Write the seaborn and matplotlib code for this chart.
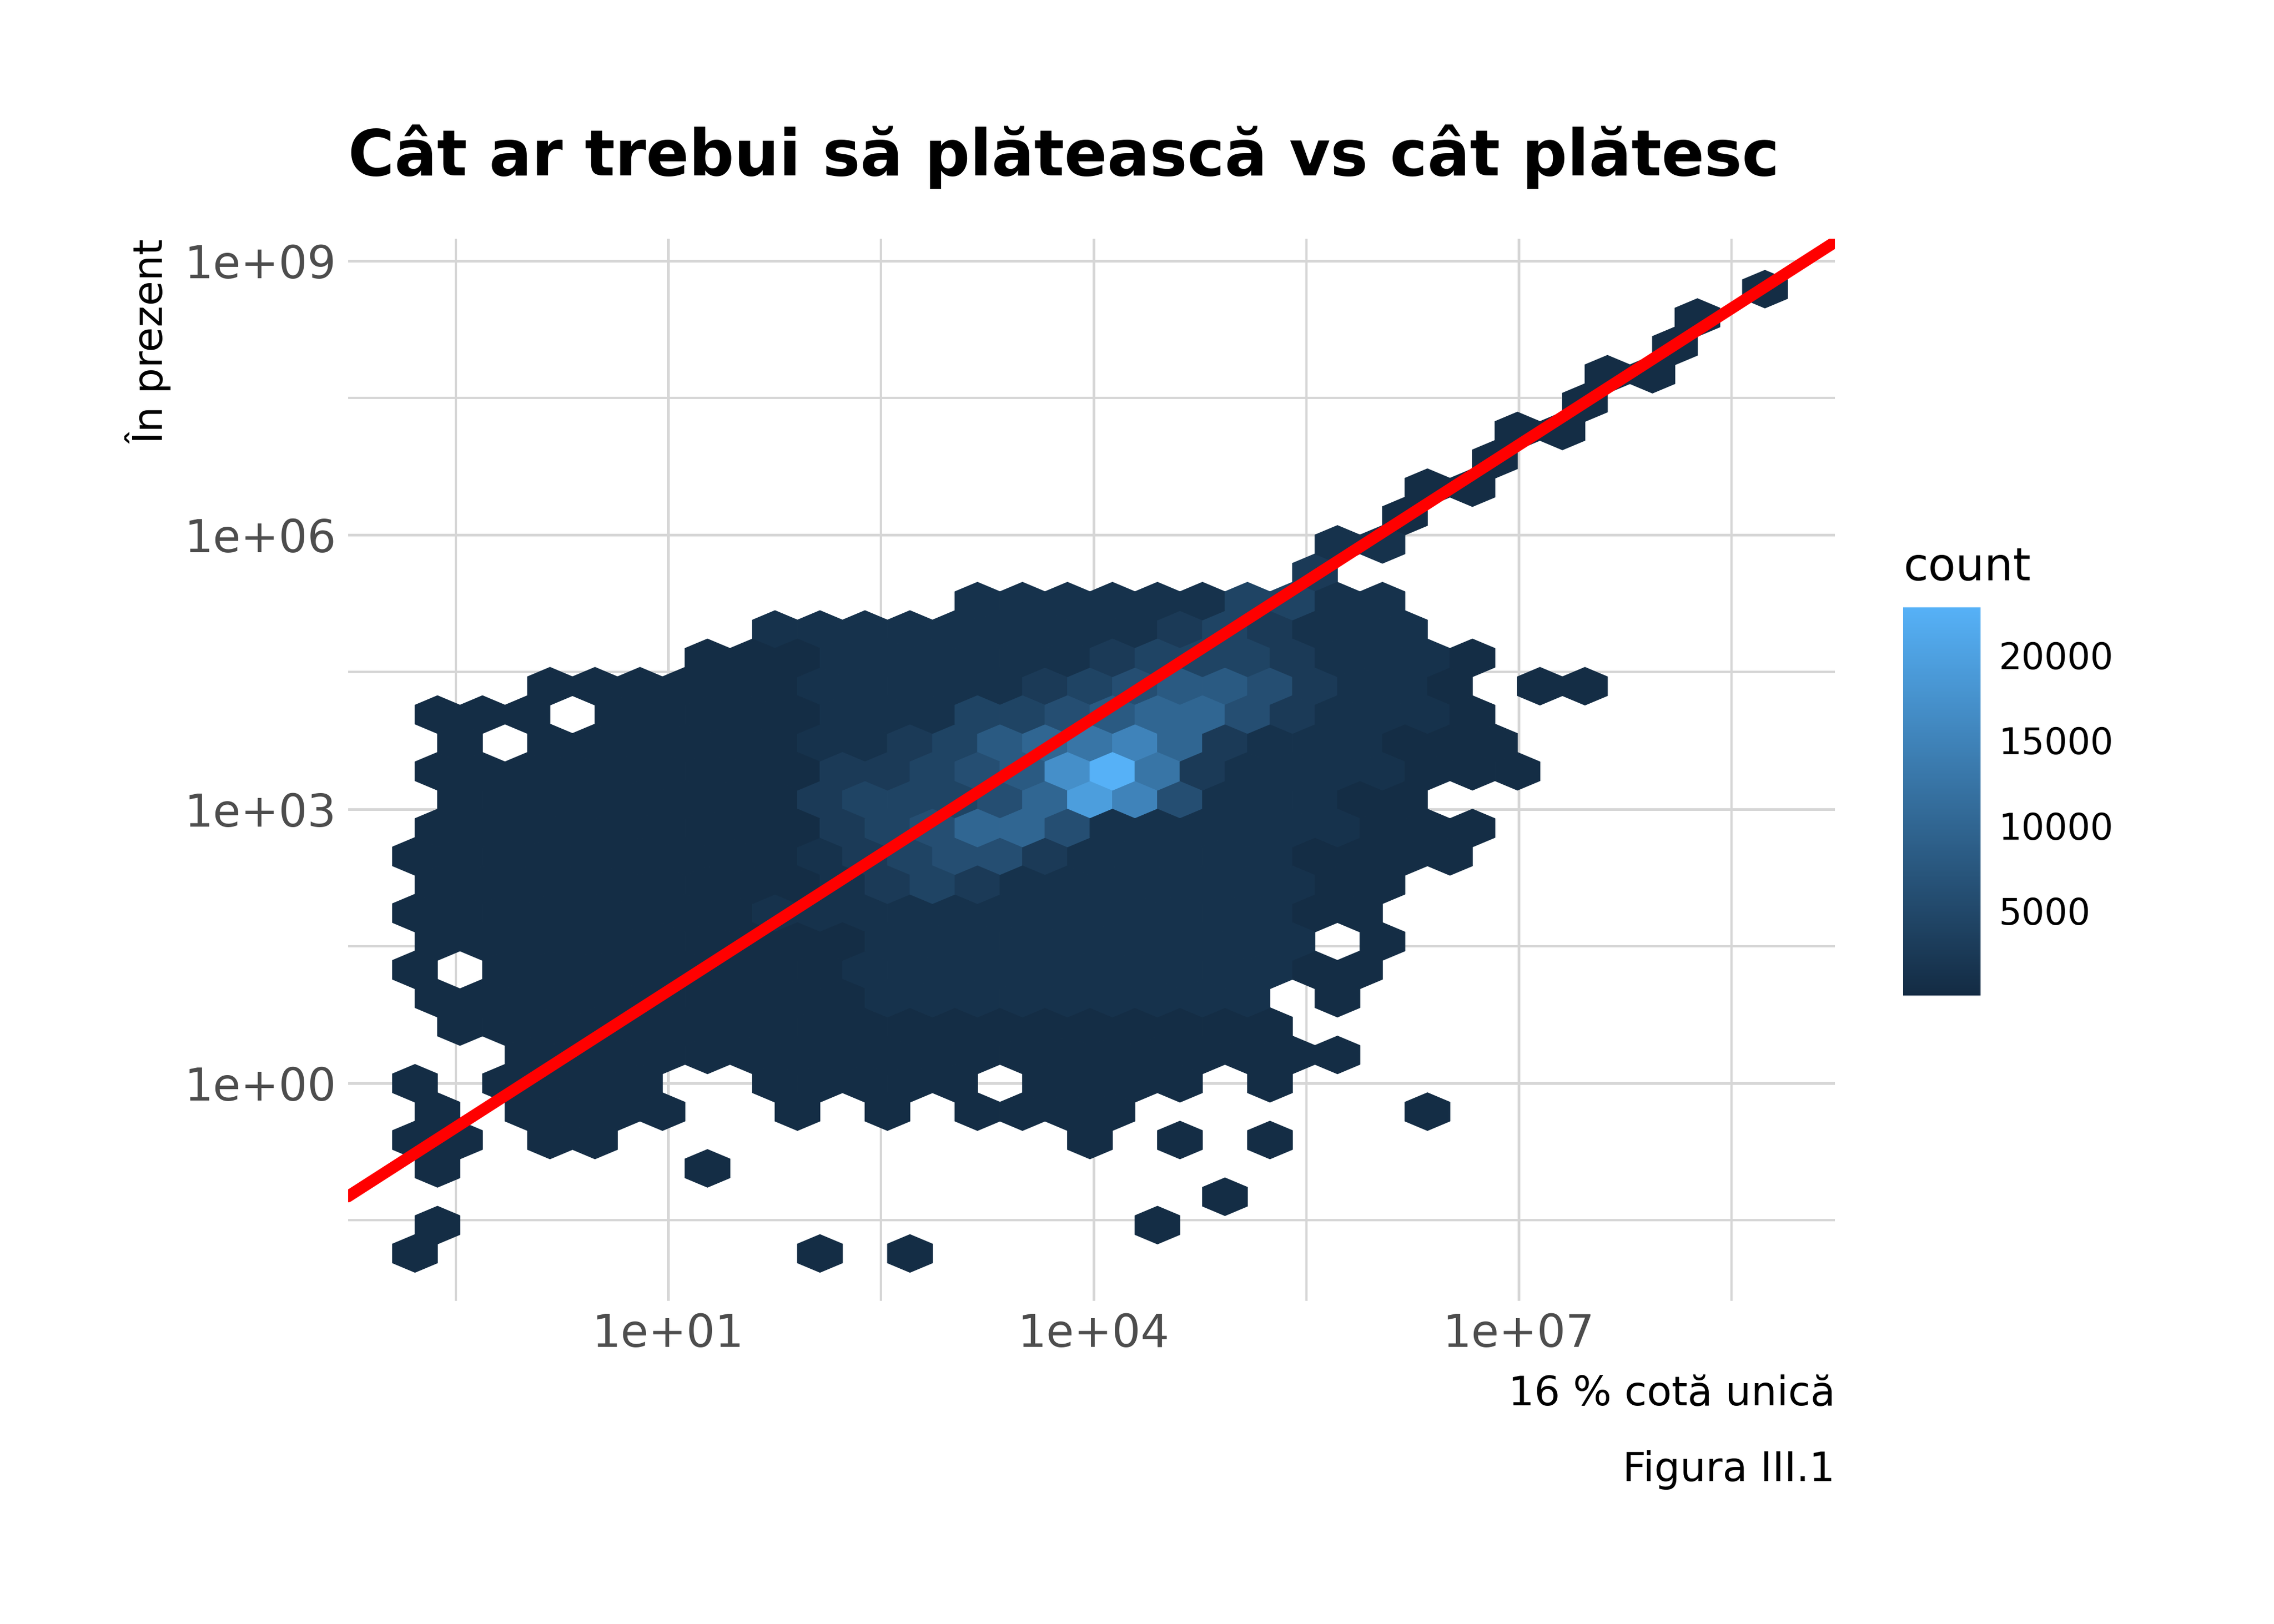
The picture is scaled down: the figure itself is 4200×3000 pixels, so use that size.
import numpy as np
import pandas as pd
import matplotlib
matplotlib.use("Agg")
import matplotlib.pyplot as plt
import seaborn as sns
from matplotlib.colors import LinearSegmentedColormap

# hex grid: one string per hex row (row index r, bottom to top),
# one char per column (c0..c30); '.' = empty bin, other chars = count level
first_row = -6
hex_rows = [
    "1........1" ".1........" ".........." ".",  # r=-6
    "1........." "......1..." ".........." ".",  # r=-5
    ".........." "........1." ".........." ".",  # r=-4
    "1.....1..." ".........." ".........." ".",  # r=-3
    "11.11....." ".....1.1.1" ".........." ".",  # r=-2
    "1.1111..1." "1.1111...." "..1......." ".",  # r=-1
    "1.1111..11" "111.1111.1" ".........." ".",  # r=0
    "..11111111" "1111111111" "1........." ".",  # r=1
    ".111111111" "1111111111" ".........." ".",  # r=2
    "1111111111" "222222222." "1........." ".",  # r=3
    "1.11111111" "2222222222" "11........" ".",  # r=4
    "1111111111" "2222222222" ".1........" ".",  # r=5
    "1111111122" "2222222222" "11........" ".",  # r=6
    "1111111112" "3432222222" "11........" ".",  # r=7
    "1111111112" "3455322222" "1111......" ".",  # r=8
    "1111111113" "4577522222" "2111......" ".",  # r=9
    ".111111113" "44457b9522" "211......." ".",  # r=10
    "1111111113" "3456ac8322" "22111....." ".",  # r=11
    ".1.1111112" "2346789732" "22111....." ".",  # r=12
    "111.111112" "2244567753" "2221......" ".",  # r=13
    "...1111112" "2222345665" "3221.11..." ".",  # r=14
    "......1112" "2222234443" "2221......" ".",  # r=15
    "........22" "2222222343" "222......." ".",  # r=16
    ".........." "..22222244" "22........" ".",  # r=17
    ".........." ".........." "3........." ".",  # r=18
    ".........." ".........." "22........" ".",  # r=19
    ".........." ".........." "..1......." ".",  # r=20
    ".........." ".........." "..11......" ".",  # r=21
    ".........." ".........." "....1....." ".",  # r=22
    ".........." ".........." "....11...." ".",  # r=23
    ".........." ".........." "......1..." ".",  # r=24
    ".........." ".........." "......11.." ".",  # r=25
    ".........." ".........." "........1." ".",  # r=26
    ".........." ".........." "........1." ".",  # r=27
    ".........." ".........." ".........." "1",  # r=28
]
level_counts = {"1": 300, "2": 1200, "3": 2600, "4": 4200, "5": 6000, "6": 8000,
                "7": 10000, "8": 12500, "9": 15000, "a": 17000, "b": 19500, "c": 22800}

# bin geometry in log10 units
x0 = -0.787
dx = 0.3174
dy = 0.3103

line_slope = 0.9956
line_intercept = 0.016

xs, ys, cs = [], [], []
for i, row in enumerate(hex_rows):
    r = first_row + i
    for c, ch in enumerate(row):
        if ch == ".":
            continue
        xs.append(x0 + (c + 0.5 * (r % 2)) * dx)
        ys.append(r * dy)
        cs.append(level_counts[ch])
df = pd.DataFrame({"x": xs, "y": ys, "count": cs})

sns.set_theme(style="white")
plt.rcParams["font.family"] = ["DejaVu Sans"]
plt.rcParams["text.color"] = "black"
plt.rcParams["axes.labelcolor"] = "black"

fig = plt.figure(figsize=(14, 10), dpi=300)
ax = fig.add_axes([0.153, 0.199, 0.654, 0.654])

cmap = LinearSegmentedColormap.from_list("gg", ["#132B43", "#56B1F7"])
xmin = x0 - dx
ymin = -8 * dy
hb = ax.hexbin(df["x"], df["y"], C=df["count"], reduce_C_function=np.sum,
               gridsize=(33, 19), extent=(xmin, xmin + 33 * dx, ymin, ymin + 38 * dy),
               cmap=cmap, vmin=1, vmax=22800, edgecolors="face", linewidths=0.3, zorder=2)

ax.axline((0, line_intercept), slope=line_slope, color="#FF0000", lw=5.2, zorder=3)

ax.set_xlim(-1.26, 9.23)
ax.set_ylim(-2.38, 9.24)
ax.set_xticks([1, 4, 7])
ax.set_xticklabels(["1e+01", "1e+04", "1e+07"])
ax.set_yticks([0, 3, 6, 9])
ax.set_yticklabels(["1e+00", "1e+03", "1e+06", "1e+09"])
ax.set_xticks([-0.5, 2.5, 5.5, 8.5], minor=True)
ax.set_yticks([-1.5, 1.5, 4.5, 7.5], minor=True)
ax.grid(True, which="major", color="#D6D6D6", lw=1.2, zorder=0)
ax.grid(True, which="minor", color="#D6D6D6", lw=1.0, zorder=0)
ax.set_axisbelow(True)
for s in ax.spines.values():
    s.set_visible(False)
ax.tick_params(axis="both", which="both", length=0, labelsize=20, labelcolor="#4D4D4D", pad=5)

ax.set_xlabel("16 % cotă unică", fontsize=18, loc="right", labelpad=8)
ax.set_ylabel("În prezent", fontsize=18, loc="top", labelpad=6)
ax.set_title("Cât ar trebui să plătească vs cât plătesc", fontsize=28, fontweight="bold",
             loc="left", pad=28, color="black")
fig.text(0.807, 0.095, "Figura III.1", fontsize=18, ha="right", va="center")

cax = fig.add_axes([0.837, 0.387, 0.034, 0.239])
cb = fig.colorbar(hb, cax=cax)
cb.outline.set_visible(False)
cb.set_ticks([5000, 10000, 15000, 20000])
cax.tick_params(length=5, color="white", width=1, direction="in", labelsize=16, pad=8,
                labelcolor="black")
cax.set_title("count", fontsize=20, loc="left", pad=12)

fig.savefig("out.png", dpi=300)
